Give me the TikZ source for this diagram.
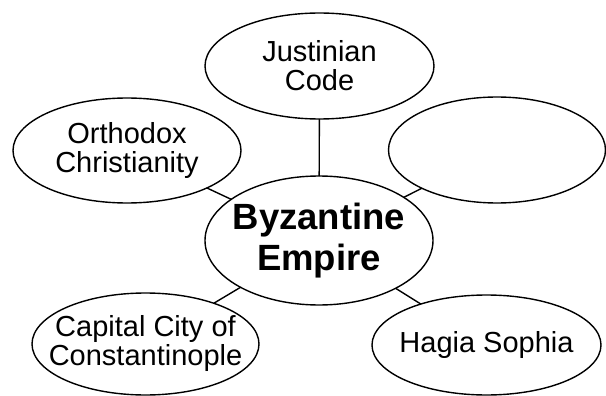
\documentclass[tikz,border=0pt]{standalone}
\usepackage{fontspec}
\setmainfont{Liberation Sans}
\usetikzlibrary{shapes.geometric}
\tikzset{
  bubble/.style={ellipse, draw, line width=1.4pt, inner sep=0pt, outer sep=0pt},
  txt/.style={align=center, inner sep=0pt, font=\fontsize{29}{29}\selectfont},
  hubtxt/.style={align=center, inner sep=0pt, font=\fontsize{36.5}{41}\selectfont\bfseries},
  link/.style={line width=1.4pt}
}
\begin{document}
\begin{tikzpicture}[x=1pt,y=-1pt]
\useasboundingbox (0,0) rectangle (606,396);
\clip (0,0) rectangle (606,396);
\node[bubble, minimum width=228pt, minimum height=129pt,
  label={[hubtxt]center:Byzantine\\Empire}] (c) at (319,240.5) {};
\node[bubble, minimum width=229pt, minimum height=106pt,
  label={[txt]center:Justinian\\Code}] (top) at (319.5,66) {};
\node[bubble, minimum width=228pt, minimum height=105pt,
  label={[txt]center:Orthodox\\Christianity}] (left) at (127,150.5) {};
\node[bubble, minimum width=217pt, minimum height=106pt] (right) at (497,150) {};
\node[bubble, minimum width=227pt, minimum height=102pt,
  label={[txt]center:Capital City of\\Constantinople}] (bl) at (145.5,344) {};
\node[bubble, minimum width=229pt, minimum height=100pt,
  label={[txt]center:Hagia Sophia}] (br) at (486.5,345) {};
\draw[link] (c) -- (top);
\draw[link] (c) -- (left);
\draw[link] (c) -- (right);
\draw[link] (c) -- (bl);
\draw[link] (c) -- (br);
\end{tikzpicture}
\end{document}
